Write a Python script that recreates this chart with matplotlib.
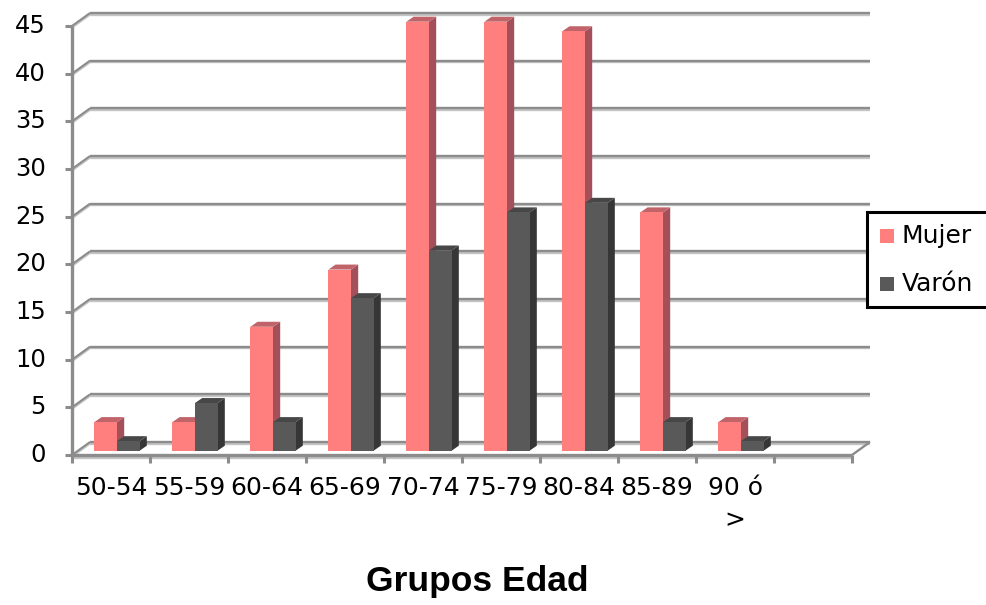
import matplotlib
matplotlib.use("Agg")
import matplotlib.pyplot as plt
import matplotlib.transforms as mtransforms
from matplotlib.patches import Polygon, Rectangle
import numpy as np

# ---- data ----
grupos = ["50-54", "55-59", "60-64", "65-69", "70-74", "75-79", "80-84", "85-89", "90 ó\n>"]
mujer = [3, 3, 13, 19, 45, 45, 44, 25, 3]
varon = [1, 5, 3, 16, 21, 25, 26, 3, 1]
series_names = ["Mujer", "Varón"]
y_ticks = [0, 5, 10, 15, 20, 25, 30, 35, 40, 45]
n_slots = 10  # one empty category slot at the end of the floor

# ---- styles ----
face = {"Mujer": ("#FF7F7F", "#C0646A", "#A4505A"),
        "Varón": ("#595959", "#474747", "#363636")}
grid_c = "#8C8C8C"
grid_light = "#C4C4C4"
label_font = dict(family="DejaVu Sans", color="black")

W, H, DPI = 986, 605, 100
fig = plt.figure(figsize=(W / DPI, H / DPI), dpi=DPI)
fig.patch.set_facecolor("white")

# front plane of the plot, in pixels
x0_px, x1_px = 72, 852
y0_px, y1_px = 455, 26
ax = fig.add_axes([x0_px / W, 1 - y0_px / H, (x1_px - x0_px) / W, (y0_px - y1_px) / H])
ax.set_xlim(0, n_slots)
ax.set_ylim(0, 45)
ax.axis("off")

ux = n_slots / (x1_px - x0_px)   # data units per pixel (x)
uy = 45 / (y0_px - y1_px)        # data units per pixel (y)

# depth of the back wall in pixels
wall_dx, wall_dy = 18, 13
DX, DY = wall_dx * ux, wall_dy * uy


def line(xs, ys, color, lw, z=1, dx=0, dy=0):
    tr = mtransforms.offset_copy(ax.transData, fig, x=dx, y=dy, units="dots")
    ax.plot(xs, ys, color=color, lw=lw, transform=tr, clip_on=False,
            solid_capstyle="butt", zorder=z)


# back wall gridlines and left wall connectors
for v in y_ticks:
    line([DX, n_slots + DX], [v + DY, v + DY], grid_light, 1.7, dy=-1.5)
    line([DX, n_slots + DX], [v + DY, v + DY], grid_c, 1.7)
    line([0, DX], [v, v + DY], grid_light, 1.6, dy=-1.5)
    line([0, DX], [v, v + DY], grid_c, 1.5)
    # y tick mark
    line([-7 * ux, 0], [v, v], grid_c, 2.2)
    ax.text(-26 * ux, v, str(v), ha="right", va="center", fontsize=17.5,
            clip_on=False, **label_font)

# right floor connector
line([n_slots, n_slots + DX], [0, DY], grid_c, 1.7)

# left axis and floor front edge
line([0, 0], [0, 45], grid_c, 2.4, z=5)
line([0, n_slots], [0, 0], grid_light, 2.4, z=5, dy=-1.5)
line([0, n_slots], [0, 0], grid_c, 2.4, z=5)
for k in range(n_slots + 1):
    line([k, k], [0, -8 * uy], grid_c, 2.2, z=5)

# ---- bars ----
bw = 0.29
front_dx, front_dy = 6, 4.3     # bar front face sits a bit behind the front plane
side_dx, side_dy = 7.2, 5.0     # bar thickness in depth
sdx, sdy = side_dx * ux, side_dy * uy
front_tr = mtransforms.offset_copy(ax.transData, fig, x=front_dx, y=front_dy, units="dots")

x = np.arange(len(grupos)) + 0.5
for i in range(len(grupos)):
    for name, vals, off in (("Mujer", mujer, -bw), ("Varón", varon, 0.0)):
        v = vals[i]
        fc, tc, sc = face[name]
        left = x[i] + off
        right = left + bw
        side = Polygon([(right, 0), (right + sdx, sdy), (right + sdx, v + sdy), (right, v)],
                       closed=True, facecolor=sc, edgecolor="none", transform=front_tr,
                       zorder=3, clip_on=False)
        top = Polygon([(left, v), (left + sdx, v + sdy), (right + sdx, v + sdy), (right, v)],
                      closed=True, facecolor=tc, edgecolor="none", transform=front_tr,
                      zorder=3, clip_on=False)
        ax.add_patch(side)
        ax.add_patch(top)
        ax.bar([left], [v], width=bw, align="edge", color=fc, edgecolor="none",
               transform=front_tr, zorder=3, clip_on=False)

ax.set_xlim(0, n_slots)
ax.set_ylim(0, 45)

# category labels
for i, g in enumerate(grupos):
    ax.text(x[i], -21 * uy, g, ha="center", va="top", fontsize=18,
            linespacing=1.45, clip_on=False, **label_font)

# axis title
fig.text(477 / W, 1 - 582 / H, "Grupos Edad", ha="center", va="center",
         fontsize=25.5, fontweight="bold", family="Liberation Sans")

# legend box running off the right edge
fig.patches.append(Rectangle((867 / W, 1 - 307 / H), 140 / W, 95 / H,
                             transform=fig.transFigure, facecolor="white",
                             edgecolor="black", lw=2.2, zorder=10))
for j, (name, ypx) in enumerate(zip(series_names, [236, 284])):
    fig.patches.append(Rectangle((880 / W, 1 - (ypx + 7) / H), 14 / W, 14 / H,
                                 transform=fig.transFigure, facecolor=face[name][0],
                                 edgecolor="none", zorder=11))
    fig.text(902 / W, 1 - ypx / H, name, ha="left", va="center", fontsize=18,
             zorder=12, **label_font)

fig.savefig("out.png", dpi=DPI)
